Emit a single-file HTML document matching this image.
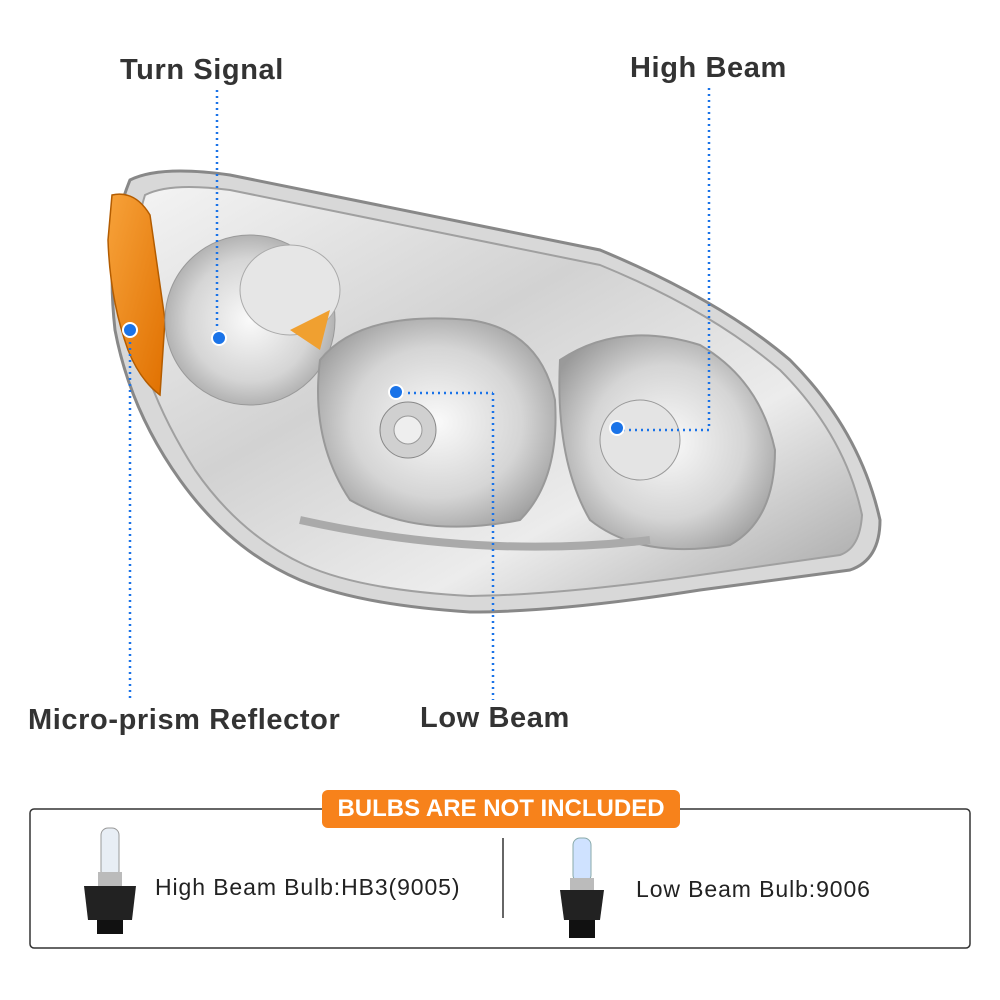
<!DOCTYPE html>
<html><head><meta charset="utf-8"><style>
html,body{margin:0;padding:0;background:#fff;}
body{width:1000px;height:1000px;position:relative;overflow:hidden;font-family:"Liberation Sans",sans-serif;}
.lbl{position:absolute;font-weight:bold;color:#333;font-size:29px;white-space:nowrap;letter-spacing:0.6px;}
.bt{position:absolute;color:#222;font-size:23px;white-space:nowrap;letter-spacing:0.9px;}
</style></head><body>
<svg width="1000" height="1000" style="position:absolute;left:0;top:0">
<defs>
<linearGradient id="chrome" x1="0" y1="0" x2="1" y2="1">
<stop offset="0" stop-color="#f4f4f4"/><stop offset="0.4" stop-color="#d2d2d2"/><stop offset="0.7" stop-color="#ececec"/><stop offset="1" stop-color="#a5a5a5"/></linearGradient>
<linearGradient id="amber" x1="0" y1="0" x2="1" y2="1">
<stop offset="0" stop-color="#f7a23a"/><stop offset="1" stop-color="#e07000"/></linearGradient>
<radialGradient id="refl" cx="0.5" cy="0.5" r="0.6">
<stop offset="0" stop-color="#fafafa"/><stop offset="0.6" stop-color="#d5d5d5"/><stop offset="1" stop-color="#9a9a9a"/></radialGradient>
</defs>
<path d="M130,180 Q160,165 230,175 L600,250 Q720,300 790,360 Q860,430 880,520 Q880,560 850,570 L700,590 Q560,612 470,612 Q360,605 300,580 Q230,550 180,480 Q130,410 115,330 Q105,240 130,180 Z" fill="#d8d8d8" stroke="#888" stroke-width="3"/>
<path d="M145,195 Q170,182 230,190 L600,265 Q710,310 780,370 Q845,435 862,515 Q860,548 840,555 L700,575 Q560,595 470,596 Q360,590 305,565 Q240,535 195,470 Q150,400 135,330 Q128,250 145,195 Z" fill="url(#chrome)" stroke="#a0a0a0" stroke-width="2"/>
<path d="M112,195 Q135,190 150,215 L165,320 L160,395 Q140,380 128,350 Q110,300 108,240 Z" fill="url(#amber)" stroke="#b35c00" stroke-width="1.5"/>
<ellipse cx="250" cy="320" rx="85" ry="85" fill="url(#refl)" stroke="#999"/>
<ellipse cx="290" cy="290" rx="50" ry="45" fill="#e6e6e6" stroke="#aaa"/>
<path d="M290,330 L330,310 L320,350 Z" fill="#f0a030"/>
<path d="M320,360 Q360,310 470,320 Q540,330 555,400 Q560,480 520,520 Q420,540 350,500 Q310,440 320,360 Z" fill="url(#refl)" stroke="#999" stroke-width="2"/>
<circle cx="408" cy="430" r="28" fill="#d0d0d0" stroke="#888"/>
<circle cx="408" cy="430" r="14" fill="#eee" stroke="#999"/>
<path d="M560,360 Q620,320 700,345 Q760,380 775,450 Q775,520 730,545 Q640,560 590,520 Q555,460 560,360 Z" fill="url(#refl)" stroke="#999" stroke-width="2"/>
<circle cx="640" cy="440" r="40" fill="#e4e4e4" stroke="#999"/>
<path d="M300,520 Q480,560 650,540" fill="none" stroke="#aaa" stroke-width="8"/>
<g stroke="#1a73e8" stroke-width="2.5" stroke-dasharray="2,4" fill="none">
<line x1="217" y1="90" x2="217" y2="338"/>
<line x1="709" y1="88" x2="709" y2="430"/>
<line x1="617" y1="430" x2="709" y2="430"/>
<line x1="130" y1="330" x2="130" y2="700"/>
<line x1="396" y1="393" x2="493" y2="393"/>
<line x1="493" y1="393" x2="493" y2="700"/>
</g>
<g fill="#1a73e8" stroke="#fff" stroke-width="2">
<circle cx="219" cy="338" r="7"/><circle cx="617" cy="428" r="7"/>
<circle cx="130" cy="330" r="7"/><circle cx="396" cy="392" r="7"/>
</g>
<rect x="30" y="809" width="940" height="139" rx="4" fill="none" stroke="#333" stroke-width="1.5"/>
<rect x="322" y="790" width="358" height="38" rx="6" fill="#f7821b"/>
<line x1="503" y1="838" x2="503" y2="918" stroke="#333" stroke-width="1.5"/>
<rect x="101" y="828" width="18" height="50" rx="7" fill="#e8eef5" stroke="#999"/>
<rect x="98" y="872" width="24" height="14" fill="#bbb"/>
<path d="M84,886 L136,886 L132,920 L88,920 Z" fill="#222"/>
<rect x="97" y="920" width="26" height="14" fill="#111"/>
<rect x="573" y="838" width="18" height="44" rx="7" fill="#cfe2ff" stroke="#8aa"/>
<rect x="570" y="878" width="24" height="12" fill="#bbb"/>
<path d="M560,890 L604,890 L600,920 L564,920 Z" fill="#222"/>
<rect x="569" y="920" width="26" height="18" fill="#111"/>
</svg>
<div class="lbl" style="left:120px;top:54px">Turn Signal</div>
<div class="lbl" style="left:630px;top:52px">High Beam</div>
<div class="lbl" style="left:28px;top:704px">Micro-prism Reflector</div>
<div class="lbl" style="left:420px;top:702px">Low Beam</div>
<div style="position:absolute;left:322px;top:790px;width:358px;height:38px;line-height:38px;text-align:center;color:#fff;font-weight:bold;font-size:24px">BULBS ARE NOT INCLUDED</div>
<div class="bt" style="left:155px;top:874px">High Beam Bulb:HB3(9005)</div>
<div class="bt" style="left:636px;top:876px">Low Beam Bulb:9006</div>
</body></html>
